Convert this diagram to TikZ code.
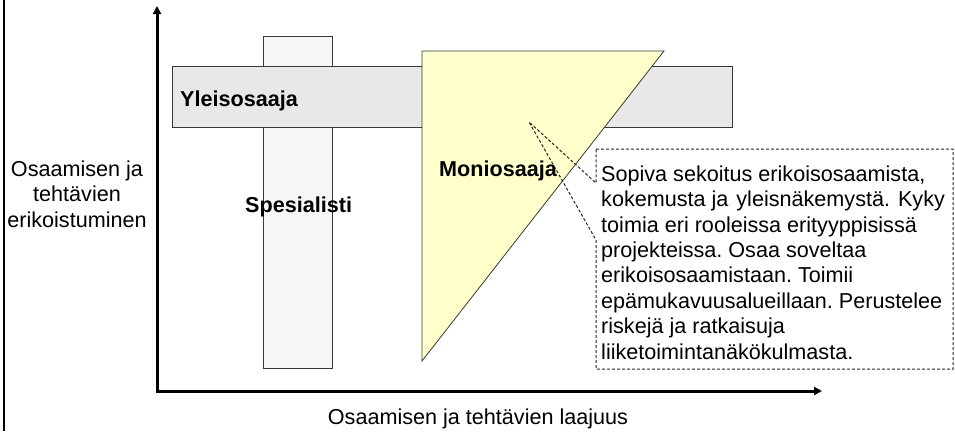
\documentclass[tikz,border=0pt]{standalone}
\usepackage{fontspec}
\setmainfont{Liberation Sans}
\usetikzlibrary{arrows.meta}
\definecolor{ylfill}{HTML}{E8E8E8}
\definecolor{spfill}{HTML}{F6F6F6}
\definecolor{mofill}{HTML}{FFFFCC}
\definecolor{edge}{HTML}{383838}
\frenchspacing
\begin{document}
\begin{tikzpicture}[x=1pt,y=-1pt,
  lbl/.style={font=\fontsize{21.6}{25.4}\selectfont, inner sep=0pt},
  blbl/.style={font=\fontsize{21.6}{25.4}\selectfont\bfseries, inner sep=0pt},
  bar/.style={draw=edge, line width=0.8pt, inner sep=0pt, anchor=north west},
  axisline/.style={line width=3pt, {Triangle[length=8pt,width=8pt]}-{Triangle[length=8pt,width=8pt]}},
  callout/.style={draw=black!85, line width=1pt, dash pattern=on 3pt off 2pt},
]
\useasboundingbox (0,0) rectangle (955,431);
% left frame line
\coordinate (ftop) at (4,0);
\coordinate (fbot) at (4,431);
\draw[line width=2pt] (ftop) -- (fbot);

% bars
\node[bar, fill=spfill, minimum width=69pt, minimum height=332pt] (spec) at (263,36) {};
\node[bar, fill=ylfill, minimum width=560pt, minimum height=61pt] (yleis) at (172,66) {};

% triangle
\coordinate (t1) at (422,51);
\coordinate (t2) at (664,51);
\coordinate (t3) at (422,361);
\draw[draw=edge, line width=0.8pt, fill=mofill] (t1) -- (t2) -- (t3) -- cycle;

% axes
\coordinate (O) at (157,391);
\coordinate (ytip) at (157,6);
\coordinate (xtip) at (822,391);
\draw[axisline] (ytip) -- (O) -- (xtip);

% labels
\node[blbl, anchor=base west] (tyleis) at (180,106) {Yleisosaaja};
\node[blbl, anchor=base west] (tspec) at (245,212) {Spesialisti};
\node[blbl, anchor=base west] (tmoni) at (439,176) {Moniosaaja};
\node[lbl, align=center, anchor=north] (ylabel) at (77,160.5) {Osaamisen ja\\tehtävien\\erikoistuminen};
\node[lbl, anchor=base] (xlabel) at (478,424) {Osaamisen ja tehtävien laajuus};

% callout
\coordinate (apex) at (529,122);
\coordinate (c1) at (596,149);
\coordinate (c2) at (953,149);
\coordinate (c3) at (953,369);
\coordinate (c4) at (596,369);
\coordinate (w1) at (596,240);
\coordinate (w2) at (596,183);
\draw[callout] (c1) -- (c2) -- (c3) -- (c4) -- (w1) -- (apex) -- (w2) -- cycle;
\node[lbl, align=left, anchor=north west] (note) at (601,165.5)
 {Sopiva sekoitus erikoisosaamista,\\
  kokemusta ja\hspace{8pt}yleisnäkemystä.\hspace{8pt}Kyky\\
  toimia eri rooleissa erityyppisissä\\
  projekteissa. Osaa soveltaa\\
  erikoisosaamistaan. Toimii\\
  epämukavuusalueillaan. Perustelee\\
  riskejä ja ratkaisuja\\
  liiketoimintanäkökulmasta.};
\end{tikzpicture}
\end{document}
